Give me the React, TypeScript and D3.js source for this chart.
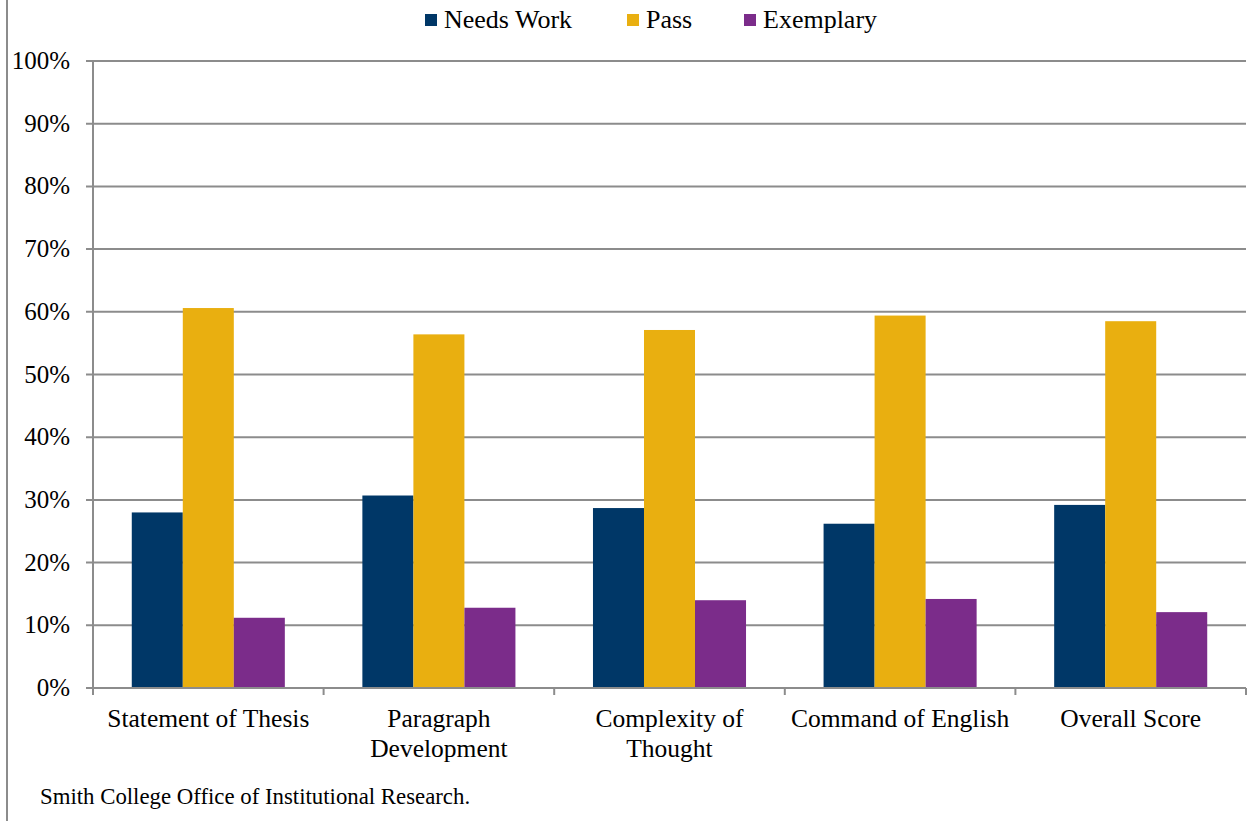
import React from "react";
import * as d3 from "d3";

const categories: string[][] = [
  ["Statement of Thesis"],
  ["Paragraph", "Development"],
  ["Complexity of", "Thought"],
  ["Command of English"],
  ["Overall Score"],
];
const seriesNames = ["Needs Work", "Pass", "Exemplary"];
const needsWork = [28.0, 30.7, 28.7, 26.2, 29.2];
const pass = [60.6, 56.4, 57.1, 59.4, 58.5];
const exemplary = [11.2, 12.8, 14.0, 14.2, 12.1];
const colors = ["#003767", "#E9AF10", "#7B2C8A"];
const yTicks = [0, 10, 20, 30, 40, 50, 60, 70, 80, 90, 100];
const footer = "Smith College Office of Institutional Research.";

const W = 1250;
const H = 821;
const FONT = '"Liberation Serif", "Times New Roman", serif';

export default function App() {
  const left = 93, right = 1246, top = 61, bottom = 688;
  const x = d3.scaleBand<number>().domain(d3.range(categories.length)).range([left, right]).paddingInner(0).paddingOuter(0);
  const inner = d3.scaleBand<number>().domain([0, 1, 2]).range([0, x.bandwidth()]).paddingOuter(0.76).paddingInner(0);
  const y = d3.scaleLinear().domain([0, 100]).range([bottom, top]);
  const series = [needsWork, pass, exemplary];
  const grid = "#8c8c8c";

  const legendItems = [
    { sx: 425, tx: 444 },
    { sx: 627, tx: 646 },
    { sx: 744, tx: 763 },
  ];

  return (
    <svg width={W} height={H} style={{ position: "absolute", left: 0, top: 0, background: "#fff", fontFamily: FONT }}>
      <rect x={0} y={0} width={W} height={H} fill="#fff" />
      <line x1={7} x2={7} y1={0} y2={H} stroke={grid} strokeWidth={2} />
      {yTicks.map((t) => (
        <g key={t}>
          <line x1={86} x2={right} y1={y(t)} y2={y(t)} stroke={grid} strokeWidth={2} />
          <text x={70} y={y(t) + 8} textAnchor="end" fontSize={25} fill="#000" style={{ fontFamily: FONT }}>{t}%</text>
        </g>
      ))}
      {series.map((vals, si) =>
        vals.map((v, ci) => (
          <rect
            key={si + "-" + ci}
            x={(x(ci) as number) + (inner(si) as number)}
            y={y(v)}
            width={inner.bandwidth()}
            height={y(0) - y(v)}
            fill={colors[si]}
          />
        ))
      )}
      <line x1={left} x2={left} y1={top} y2={bottom} stroke={grid} strokeWidth={2} />
      <line x1={left} x2={right} y1={bottom} y2={bottom} stroke={grid} strokeWidth={2} />
      {d3.range(categories.length + 1).map((i) => {
        const xx = i < categories.length ? (x(i) as number) : right;
        return <line key={i} x1={xx} x2={xx} y1={bottom} y2={bottom + 7} stroke={grid} strokeWidth={2} />;
      })}
      {categories.map((lines, ci) => (
        <text key={ci} textAnchor="middle" fontSize={25.5} fill="#000" style={{ fontFamily: FONT }}>
          {lines.map((l, li) => (
            <tspan key={li} x={(x(ci) as number) + x.bandwidth() / 2} y={727 + li * 30}>{l}</tspan>
          ))}
        </text>
      ))}
      {seriesNames.map((n, i) => (
        <g key={n}>
          <rect x={legendItems[i].sx} y={14} width={12} height={12} fill={colors[i]} />
          <text x={legendItems[i].tx} y={28} fontSize={26} fill="#000" style={{ fontFamily: FONT }}>{n}</text>
        </g>
      ))}
      <text x={40} y={804} fontSize={22.8} fill="#000" style={{ fontFamily: FONT }}>{footer}</text>
    </svg>
  );
}
